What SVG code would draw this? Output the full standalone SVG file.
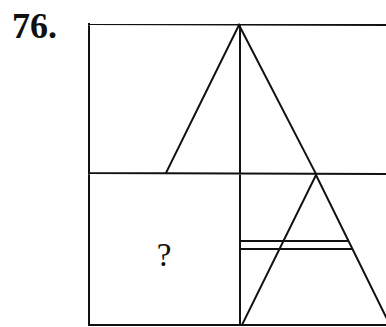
<svg xmlns="http://www.w3.org/2000/svg" width="386" height="327" viewBox="0 0 386 327">
<style>
.l{stroke:#111;stroke-width:2;fill:none;stroke-linecap:square}
.t{font-family:"Liberation Serif",serif;fill:#111}
</style>
<rect width="386" height="327" fill="#fff"/>
<text class="t" x="12" y="38" font-size="36" font-weight="bold">76.</text>
<g id="grid">
<path class="l" d="M89,24 L387,25 M89,24 L89,325 L387,325 M89,173 L387,174 M240,25 L240,325"/>
</g>
<g id="top-triangle">
<path class="l" d="M166,173 L239,25 L316,174"/>
</g>
<g id="bottom-triangle">
<path class="l" d="M242,325 L316,175 L390,325"/>
<path class="l" d="M241,241 L348,241 M241,249 L352,249"/>
</g>
<g id="question">
<text class="t" x="164" y="266" font-size="33" text-anchor="middle">?</text>
</g>
</svg>
